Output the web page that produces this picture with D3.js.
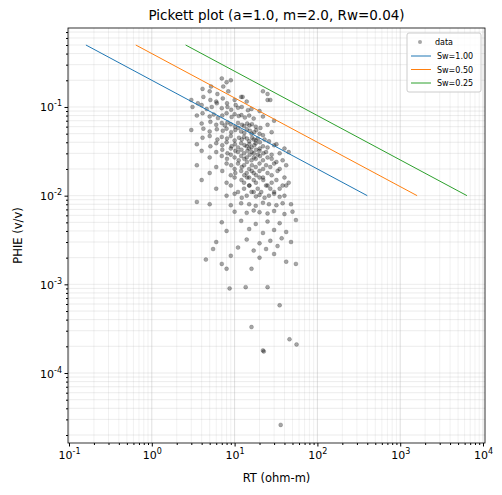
<!DOCTYPE html>
<html><head><meta charset="utf-8">
<script src="https://cdn.jsdelivr.net/npm/d3@7"></script>
<style>body{margin:0;background:#fff}text{font-family:"DejaVu Sans",sans-serif}</style>
</head><body><svg id="c" width="502" height="495"></svg>
<script>
const a=1.0,m=2.0,Rw=0.04;
const swValues=[1.00,0.50,0.25];
const swColors=["#1f77b4","#ff7f0e","#2ca02c"];
const phiRange=[0.5,0.01];
const xTicks=[0.1,1,10,100,1000,10000];
const yTicks=[1e-4,1e-3,1e-2,1e-1];
const rt=[7,8,9,5.2,25,4.1,5,6.2,7.3,8.4,12,22,27,3,3.6,4.2,5.1,6,7.2,8.1,10,12.5,14,25,3.1,4,4.6,5.3,6.1,7,8.2,9.1,10.3,11,12.2,14.5,16,20,3.5,4.1,5,5.6,6.3,7.1,8,9.2,10,11.2,12.1,13.3,15,17,22,30,4,5.1,6,7,7.6,8.2,9,10.1,11,12.3,13,14.2,15.1,16.2,18,20.5,25,3,4.2,5,6.1,7.2,8,9.1,10.2,11.1,12,13.1,14,15.3,16,17.2,18.3,20,22,28,4.1,5,6.2,7,8.1,9,10,11.3,12.2,13,14.1,15,16.3,17,18.1,19,20.2,23,26,32,3.5,5.1,6,7.1,8,9.2,10.1,11,12,13.2,14,15.1,16,17.3,18,20.1,22,25,30,40,4,6,7.1,8.2,9,10.2,11,12.1,13,14.3,15,16.1,17,18.2,19,20,22.3,24,28,35,45,5,7,8.1,9,10,11.2,12,13.1,14,15.2,16,17.1,18,20.3,22,25,28,32,38,3.5,6,8,9.1,10,11,12.2,13,14.1,15,16.2,18,20,22.1,24,27,30,35,42,5,7.1,9,10.2,12,13.1,14,15,16.1,17,18.2,20,22,25,28,33,40,4,8,10,12.1,13,14.2,15,17,18.1,20,22.2,25,28,32,38,45,6,9,11,13,15.1,17,19,21,24,27,30,35,42,8,10,12.2,14,16,18.1,20,23,26,30,35,40,3.5,5,9,12,15,18,22,26,32,38,48,10,14,17,20,25,30,40,50,7,12,18,25,35,55,8,15,22,30,42,6,14,20,27,37,48,5.5,11,17,24,33,4.5,9,20,30,42,7,55,8,16,36,22,22.5,16,35,46,56,8.7,13.6,25];
const phie=[0.21,0.19,0.2,0.17,0.14,0.16,0.15,0.14,0.17,0.15,0.13,0.15,0.12,0.12,0.11,0.13,0.12,0.115,0.125,0.11,0.12,0.13,0.115,0.12,0.1,0.105,0.095,0.1,0.11,0.097,0.1,0.093,0.105,0.098,0.1,0.092,0.095,0.09,0.08,0.085,0.078,0.082,0.075,0.08,0.085,0.077,0.083,0.079,0.081,0.076,0.08,0.074,0.078,0.07,0.065,0.068,0.063,0.066,0.062,0.067,0.064,0.06,0.066,0.063,0.061,0.065,0.062,0.064,0.06,0.058,0.063,0.055,0.057,0.053,0.056,0.054,0.057,0.052,0.055,0.058,0.053,0.051,0.056,0.054,0.05,0.052,0.055,0.05,0.048,0.052,0.045,0.047,0.043,0.046,0.044,0.047,0.042,0.045,0.043,0.046,0.044,0.041,0.045,0.043,0.042,0.044,0.04,0.043,0.041,0.038,0.038,0.036,0.039,0.037,0.04,0.036,0.038,0.035,0.039,0.037,0.036,0.038,0.035,0.037,0.039,0.034,0.036,0.035,0.037,0.034,0.032,0.031,0.033,0.03,0.034,0.032,0.031,0.033,0.03,0.032,0.034,0.031,0.03,0.033,0.029,0.032,0.03,0.031,0.029,0.03,0.031,0.027,0.028,0.026,0.029,0.027,0.025,0.028,0.026,0.027,0.029,0.025,0.027,0.026,0.028,0.025,0.027,0.026,0.024,0.025,0.022,0.021,0.023,0.022,0.02,0.023,0.021,0.022,0.024,0.02,0.022,0.021,0.023,0.02,0.022,0.021,0.023,0.02,0.022,0.018,0.019,0.017,0.018,0.019,0.017,0.018,0.016,0.019,0.018,0.017,0.019,0.016,0.018,0.017,0.019,0.016,0.015,0.014,0.016,0.015,0.014,0.016,0.013,0.015,0.014,0.016,0.015,0.013,0.014,0.015,0.013,0.014,0.012,0.013,0.011,0.012,0.013,0.011,0.012,0.011,0.013,0.012,0.011,0.012,0.013,0.01,0.0105,0.0095,0.01,0.011,0.0098,0.0102,0.0095,0.01,0.0105,0.0097,0.01,0.0085,0.008,0.0078,0.0082,0.008,0.0077,0.0083,0.008,0.0078,0.0082,0.008,0.0066,0.0064,0.0068,0.0065,0.0063,0.0067,0.0062,0.0066,0.005,0.0052,0.0048,0.0051,0.0049,0.0053,0.004,0.0042,0.0038,0.0041,0.0039,0.003,0.0032,0.0029,0.0031,0.0033,0.003,0.0025,0.0026,0.0024,0.0025,0.0027,0.0019,0.0021,0.002,0.0022,0.0018,0.0017,0.0017,0.0015,0.0015,0.000026,0.00018,0.000175,0.00033,0.00058,0.00024,0.00021,0.0009,0.00093,0.00093];
const svg=d3.select("#c");
const L=68,R=485,T=28,B=443;
const x=d3.scaleLog().domain([0.1*Math.pow(10,-1/83),10000*Math.pow(10,2/83)]).range([L,R]);
const y=d3.scaleLog().domain([Math.pow(10,-4-70/88.7),Math.pow(10,-1+79/88.7)]).range([B,T]);
const g=svg.append("g");
// grid
const xMinor=[],yMinor=[];
for(let e=-2;e<=4;e++)for(let k=1;k<10;k++){const v=k*Math.pow(10,e);if(v>=x.domain()[0]&&v<=x.domain()[1])xMinor.push(v);}
for(let e=-5;e<=0;e++)for(let k=1;k<10;k++){const v=k*Math.pow(10,e);if(v>=y.domain()[0]&&v<=y.domain()[1])yMinor.push(v);}
g.selectAll(".gx").data(xMinor).join("line").attr("x1",d=>x(d)).attr("x2",d=>x(d)).attr("y1",T).attr("y2",B).attr("stroke","#b0b0b0").attr("stroke-opacity",d=>xTicks.includes(d)?0.5:0.3).attr("stroke-width",d=>xTicks.includes(d)?0.8:0.6);
g.selectAll(".gy").data(yMinor).join("line").attr("y1",d=>y(d)).attr("y2",d=>y(d)).attr("x1",L).attr("x2",R).attr("stroke","#b0b0b0").attr("stroke-opacity",0.4).attr("stroke-width",0.6);
// data
const pts=rt.map((r,i)=>[r,phie[i]]);
g.selectAll("circle").data(pts).join("circle").attr("cx",d=>x(d[0])).attr("cy",d=>y(d[1])).attr("r",2).attr("fill","#000").attr("fill-opacity",0.35).attr("stroke","#000").attr("stroke-opacity",0.35).attr("stroke-width",0.5);
// lines
swValues.forEach((sw,i)=>{
 const line=phiRange.map(p=>[a*Rw/(Math.pow(p,m)*sw*sw),p]);
 g.append("path").attr("d",d3.line().x(d=>x(d[0])).y(d=>y(d[1]))(line)).attr("stroke",swColors[i]).attr("fill","none").attr("stroke-width",1);
});
svg.append("rect").attr("x",L).attr("y",T).attr("width",R-L).attr("height",B-T).attr("fill","none").attr("stroke","#000").attr("stroke-width",0.8);
const sup=v=>{const e=Math.round(Math.log10(v));return e;};
const xa=svg.append("g").attr("transform",`translate(0,${B})`).call(d3.axisBottom(x).tickValues(xTicks).tickFormat("").tickSize(3.5));
xa.selectAll(".tick").append("text").attr("y",16).attr("fill","#000").attr("text-anchor","middle").attr("font-size",11).html(d=>`10<tspan dy="-5" font-size="8">${sup(d)}</tspan>`);
const ya=svg.append("g").attr("transform",`translate(${L},0)`).call(d3.axisLeft(y).tickValues(yTicks).tickFormat("").tickSize(3.5));
ya.selectAll(".tick").append("text").attr("x",-6).attr("dy",4).attr("fill","#000").attr("text-anchor","end").attr("font-size",11).html(d=>`10<tspan dy="-5" font-size="8">${sup(d)}</tspan>`);
[xa,ya].forEach(a=>{a.select(".domain").remove();a.selectAll("line").attr("stroke","#000");});
svg.append("g").attr("transform",`translate(0,${B})`).call(d3.axisBottom(x).tickValues(xMinor.filter(v=>!xTicks.includes(v))).tickFormat("").tickSize(2)).call(s=>s.select(".domain").remove());
svg.append("g").attr("transform",`translate(${L},0)`).call(d3.axisLeft(y).tickValues(yMinor.filter(v=>!yTicks.includes(v))).tickFormat("").tickSize(2)).call(s=>s.select(".domain").remove());
svg.append("text").attr("x",(L+R)/2).attr("y",20).attr("text-anchor","middle").attr("font-size",13.5).text("Pickett plot (a=1.0, m=2.0, Rw=0.04)");
svg.append("text").attr("x",(L+R)/2).attr("y",482).attr("text-anchor","middle").attr("font-size",11.5).text("RT (ohm-m)");
svg.append("text").attr("transform",`translate(22,${(T+B)/2}) rotate(-90)`).attr("text-anchor","middle").attr("font-size",11.5).text("PHIE (v/v)");
// legend
const lg=svg.append("g").attr("transform","translate(407,33)");
lg.append("rect").attr("width",74).attr("height",59).attr("rx",2).attr("fill","#fff").attr("fill-opacity",0.8).attr("stroke","#ccc");
lg.append("circle").attr("cx",13).attr("cy",9).attr("r",2).attr("fill","#000").attr("fill-opacity",0.35);
lg.append("text").attr("x",28).attr("y",12).attr("font-size",8).text("data");
swValues.forEach((sw,i)=>{const yy=23+i*13.5;lg.append("line").attr("x1",4).attr("x2",24).attr("y1",yy).attr("y2",yy).attr("stroke",swColors[i]);
lg.append("text").attr("x",30).attr("y",yy+3).attr("font-size",8).text("Sw="+sw.toFixed(2));});
</script></body></html>
